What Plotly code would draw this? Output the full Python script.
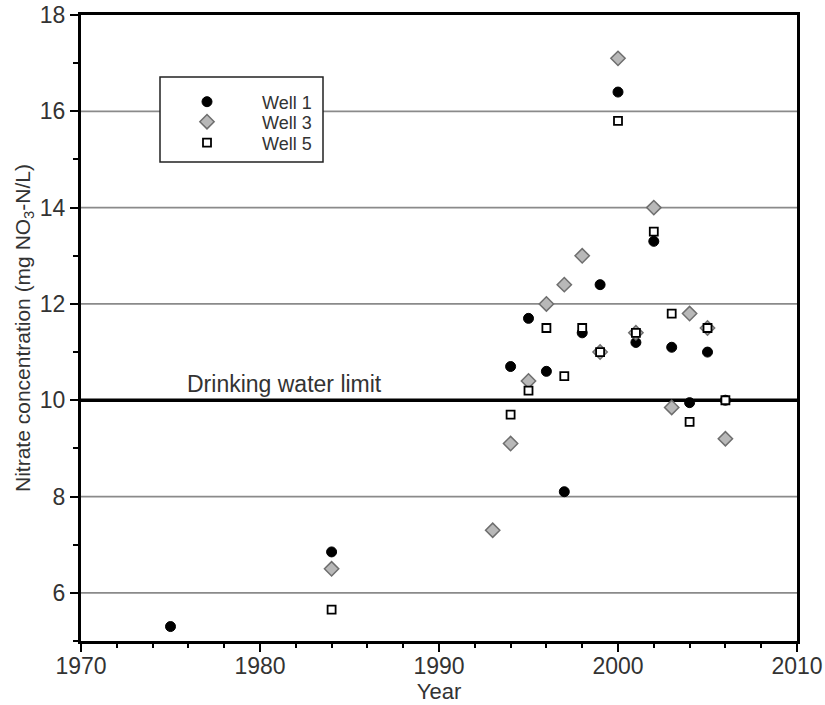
import plotly.graph_objects as go

# ---- data ----
well1_years = [1975, 1984, 1994, 1995, 1996, 1997, 1998, 1999, 2000, 2001, 2002, 2003, 2004, 2005, 2006]
well1_vals = [5.3, 6.85, 10.7, 11.7, 10.6, 8.1, 11.4, 12.4, 16.4, 11.2, 13.3, 11.1, 9.95, 11.0, 10.0]

well3_years = [1984, 1993, 1994, 1995, 1996, 1997, 1998, 1999, 2000, 2001, 2002, 2003, 2004, 2005, 2006]
well3_vals = [6.5, 7.3, 9.1, 10.4, 12.0, 12.4, 13.0, 11.0, 17.1, 11.4, 14.0, 9.85, 11.8, 11.5, 9.2]

well5_years = [1984, 1994, 1995, 1996, 1997, 1998, 1999, 2000, 2001, 2002, 2003, 2004, 2005, 2006]
well5_vals = [5.65, 9.7, 10.2, 11.5, 10.5, 11.5, 11.0, 15.8, 11.4, 13.5, 11.8, 9.55, 11.5, 10.0]

y_grid_values = [6, 8, 12, 14, 16]
limit_value = 10
limit_label = "Drinking water limit"

FONT = "Liberation Sans, Arial, sans-serif"
TXT = "#333333"

# plot-area geometry in pixels (for placing legend box)
L, R, T, B = 81, 797, 15, 641
PW, PH = R - L, B - T


def px_x(px):
    return (px - L) / PW


def px_y(py):
    return (B - py) / PH


fig = go.Figure()
fig.add_trace(go.Scatter(
    x=well1_years, y=well1_vals, mode="markers", name="Well 1", legend="legend",
    marker=dict(symbol="circle", size=10, color="black", line=dict(color="black", width=1))))
fig.add_trace(go.Scatter(
    x=well3_years, y=well3_vals, mode="markers", name="Well 3", legend="legend2",
    marker=dict(symbol="diamond", size=11, color="#b8b8b8", line=dict(color="#6e6e6e", width=1.5))))
fig.add_trace(go.Scatter(
    x=well5_years, y=well5_vals, mode="markers", name="Well 5", legend="legend3",
    marker=dict(symbol="square", size=8, color="white", line=dict(color="black", width=1.8))))

# horizontal grid lines (drawn as shapes under the data)
for gv in y_grid_values:
    fig.add_shape(type="line", xref="paper", x0=0, x1=1, yref="y", y0=gv, y1=gv,
                  line=dict(color="#8a8a8a", width=1.8), layer="below")

# drinking water limit
fig.add_shape(type="line", xref="paper", x0=0, x1=1, yref="y", y0=limit_value, y1=limit_value,
              line=dict(color="black", width=3.5), layer="below")
fig.add_annotation(x=1976, y=limit_value, xref="x", yref="y", text=limit_label,
                   showarrow=False, xanchor="left", yanchor="bottom", yshift=1, xshift=-3,
                   font=dict(family=FONT, size=23, color=TXT))

# legend box
fig.add_shape(type="rect", xref="paper", yref="paper",
              x0=px_x(160), x1=px_x(323), y0=px_y(162), y1=px_y(77),
              line=dict(color="#222", width=1.5), fillcolor="white", layer="above")

leg_common = dict(xanchor="left", yanchor="middle", bgcolor="rgba(0,0,0,0)", borderwidth=0,
                  itemwidth=100, font=dict(family=FONT, size=18, color=TXT))

fig.update_layout(
    width=825, height=705,
    margin=dict(l=L, r=825 - R, t=T, b=705 - B),
    paper_bgcolor="white", plot_bgcolor="white",
    font=dict(family=FONT, color=TXT),
    showlegend=True,
    legend=dict(x=px_x(152), y=px_y(102), **leg_common),
    legend2=dict(x=px_x(152), y=px_y(122), **leg_common),
    legend3=dict(x=px_x(152), y=px_y(143), **leg_common),
)

fig.update_xaxes(
    range=[1970, 2010], dtick=10, tick0=1970, automargin=False,
    showline=True, linecolor="black", linewidth=3, mirror=True,
    ticks="outside", ticklen=8, tickwidth=2, tickcolor="black",
    minor=dict(dtick=2, ticks="outside", ticklen=4, tickwidth=1.5, tickcolor="black", showgrid=False),
    showgrid=False, zeroline=False, ticklabelstandoff=-6,
    tickfont=dict(family=FONT, size=23, color=TXT),
    title=dict(text="Year", font=dict(family=FONT, size=22, color=TXT), standoff=2),
)
fig.update_yaxes(
    range=[5, 18], dtick=2, tick0=6, automargin=False,
    showline=True, linecolor="black", linewidth=3, mirror=True,
    ticks="outside", ticklen=8, tickwidth=2, tickcolor="black",
    minor=dict(dtick=1, ticks="outside", ticklen=5, tickwidth=1.5, tickcolor="black", showgrid=False),
    showgrid=False, zeroline=False,
    tickfont=dict(family=FONT, size=23, color=TXT),
    title=dict(text="Nitrate concentration (mg NO<sub>3</sub>-N/L)",
               font=dict(family=FONT, size=21, color=TXT), standoff=4),
)

fig.write_html("out.html", config={"displayModeBar": False},
               post_script="document.body.style.margin='0px';")
